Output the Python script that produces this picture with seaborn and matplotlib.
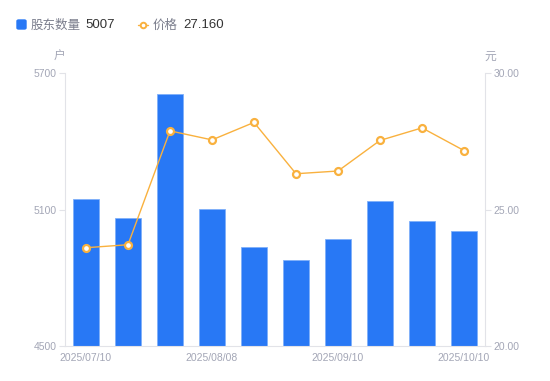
import numpy as np
import pandas as pd
import seaborn as sns
import matplotlib
matplotlib.use('Agg')
import matplotlib.pyplot as plt
from matplotlib.patches import FancyBboxPatch
from matplotlib.lines import Line2D

# datos
fechas = ['2025/07/10', '2025/07/21', '2025/07/31', '2025/08/08', '2025/08/20',
          '2025/08/29', '2025/09/10', '2025/09/19', '2025/09/30', '2025/10/10']
accionistas = [5145, 5061, 5608, 5101, 4934, 4877, 4972, 5137, 5049, 5007]
precios = [23.60, 23.71, 27.88, 27.55, 28.19, 26.31, 26.41, 27.53, 27.99, 27.16]
etiquetas_x = ['2025/07/10', '2025/08/08', '2025/09/10', '2025/10/10']

azul = '#2878f5'
naranja = '#f9b13e'
gris = '#a3a6b6'
linea_eje = '#e2e3e8'

sns.set_style('white')
plt.rcParams['font.family'] = ['Liberation Sans', 'Noto Sans CJK SC', 'DejaVu Sans']

df = pd.DataFrame({'fecha': fechas, 'accionistas': accionistas, 'precio': precios,
                   'pos': np.arange(len(fechas))})

fig = plt.figure(figsize=(5.5, 3.81), dpi=100)
ax = fig.add_axes([65 / 550, 35 / 381, 420 / 550, 273 / 381])

sns.barplot(data=df, x='fecha', y='accionistas', ax=ax, color=azul, width=0.6,
            saturation=1, edgecolor='#7fb0fa', linewidth=0.6)
ax.set_ylim(4500, 5700)
ax.set_yticks([4500, 5100, 5700])
ax.set_xlim(-0.5, 9.5)
ax.set_xticks([fechas.index(e) for e in etiquetas_x])
ax.set_xticklabels(etiquetas_x)
ax.set_xlabel('')
ax.set_ylabel('')

ax2 = ax.twinx()
sns.lineplot(data=df, x='pos', y='precio', ax=ax2, color=naranja, linewidth=1,
             marker='o', markersize=5, markerfacecolor='white',
             markeredgecolor=naranja, markeredgewidth=1.6)
ax2.set_ylim(20, 30)
ax2.set_yticks([20, 25, 30])
ax2.set_yticklabels(['20.00', '25.00', '30.00'])
ax2.set_ylabel('')
ax2.set_xlim(-0.5, 9.5)

for a in (ax, ax2):
    for s in a.spines.values():
        s.set_visible(False)
    a.tick_params(axis='y', colors=linea_eje, labelcolor=gris, labelsize=7.5,
                  length=4, width=0.8, pad=2)
ax.spines['left'].set_visible(True)
ax.spines['left'].set_color(linea_eje)
ax.spines['bottom'].set_visible(True)
ax.spines['bottom'].set_color(linea_eje)
ax2.spines['right'].set_visible(True)
ax2.spines['right'].set_color(linea_eje)
ax.tick_params(axis='x', length=0, labelcolor=gris, labelsize=7.5, pad=5)

# unidades
fig.text(59 / 550, 1 - 57 / 381, '户', color=gris, fontsize=8.5, ha='center', va='center')
fig.text(490 / 550, 1 - 57 / 381, '元', color=gris, fontsize=8.5, ha='center', va='center')

# leyenda
yl = 1 - 24.5 / 381
yt = 1 - 25.5 / 381
fig.add_artist(FancyBboxPatch((17 / 550, 1 - 29 / 381), 9 / 550, 9 / 381,
                              boxstyle='round,pad=0,rounding_size=0.003',
                              transform=fig.transFigure, color=azul))
fig.text(31 / 550, yt, '股东数量', color='#7a7d8c', fontsize=9, va='center')
fig.text(85 / 550, yt, '5007', color='#333333', fontsize=9.5, va='center')
fig.add_artist(Line2D([138 / 550, 148 / 550], [yl, yl], transform=fig.transFigure,
                      color=naranja, lw=1, marker=None))
fig.add_artist(Line2D([143 / 550], [yl], transform=fig.transFigure, color=naranja,
                      marker='o', markersize=4, markerfacecolor='white',
                      markeredgewidth=1.4))
fig.text(153 / 550, yt, '价格', color='#7a7d8c', fontsize=9, va='center')
fig.text(183 / 550, yt, '27.160', color='#333333', fontsize=9.5, va='center')

fig.savefig('out.png', dpi=100)
